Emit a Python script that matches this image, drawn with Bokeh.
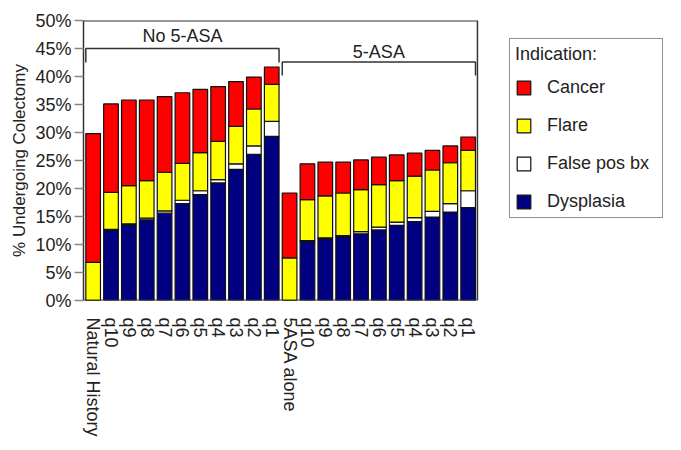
from bokeh.plotting import figure
from bokeh.models import (FixedTicker, PrintfTickFormatter, Legend, LegendItem,
                          ColumnDataSource, Range1d)
from bokeh.core.properties import value
from bokeh.embed import file_html
from bokeh.resources import INLINE

FONT = "Liberation Sans"

labels = ["Natural History", "q10", "q9", "q8", "q7", "q6", "q5", "q4", "q3", "q2", "q1",
          "5ASA alone", "q10", "q9", "q8", "q7", "q6", "q5", "q4", "q3", "q2", "q1"]
dysplasia = [0.0, 12.5, 13.5, 14.4, 15.6, 17.3, 18.9, 21.0, 23.4, 26.1, 29.3,
             0.0, 10.5, 11.0, 11.4, 11.9, 12.6, 13.4, 14.1, 14.9, 15.8, 16.6]
false_pos = [0.0, 0.2, 0.2, 0.3, 0.4, 0.6, 0.7, 0.6, 1.0, 1.5, 2.7,
             0.0, 0.2, 0.2, 0.2, 0.4, 0.5, 0.6, 0.7, 1.0, 1.5, 3.0]
flare = [6.8, 6.6, 6.8, 6.7, 6.9, 6.6, 6.8, 6.8, 6.7, 6.6, 6.6,
         7.6, 7.3, 7.5, 7.6, 7.5, 7.6, 7.4, 7.4, 7.4, 7.3, 7.2]
cancer = [23.0, 15.8, 15.3, 14.4, 13.5, 12.6, 11.3, 9.8, 8.0, 5.7, 3.1,
          11.6, 6.4, 6.0, 5.5, 5.3, 4.9, 4.6, 4.1, 3.5, 3.0, 2.4]
y_ticks = [0, 5, 10, 15, 20, 25, 30, 35, 40, 45, 50]
group_names = ["No 5-ASA", "5-ASA"]
group_first = [0, 11]
group_last = [10, 21]

x = list(range(len(labels)))
src = ColumnDataSource(dict(x=x, Dysplasia=dysplasia, FalsePos=false_pos,
                            Flare=flare, Cancer=cancer))

X0, X1 = -0.54, 21.52   # data extent of the boxed plotting area
# frame is extended to the right to host the legend (same px/unit scale)
p = figure(width=681, height=450, output_backend="svg", toolbar_location=None,
           x_range=Range1d(X0, 32.05), y_range=Range1d(0, 50),
           min_border_left=83, min_border_right=16, min_border_top=20,
           min_border_bottom=150)
p.background_fill_color = "white"
p.border_fill_color = "white"
p.outline_line_color = None
p.grid.visible = False

stack_keys = ["Dysplasia", "FalsePos", "Flare", "Cancer"]
colors = ["#000080", "#ffffff", "#ffff00", "#ff0000"]
renderers = p.vbar_stack(stack_keys, x="x", width=0.82, source=src, color=colors,
                         line_color="#111111", line_width=1.2)

# box around the plotting area (top, right, bottom)
p.line([X0, X1, X1, X0], [49.95, 49.95, 0.04, 0.04], line_color="#333333", line_width=1.5)

# brackets
br_y = [45.0, 42.6]
br_drop = [2.5, 2.4]
lab_y = [47.2, 44.3]
for i in range(2):
    x0 = group_first[i] - 0.41
    x1 = group_last[i] + 0.41
    p.line([x0, x0, x1, x1], [br_y[i] - br_drop[i], br_y[i], br_y[i], br_y[i] - br_drop[i]],
           line_color="#333333", line_width=1.5)
    p.text([(x0 + x1) / 2], [lab_y[i]], text=[group_names[i]], text_align="center",
           text_baseline="middle", text_font=value(FONT), text_font_size="18px",
           text_color="#222222")

# axes
p.xaxis.ticker = FixedTicker(ticks=x)
p.xaxis.major_label_overrides = {i: labels[i] for i in x}
p.xaxis.major_label_orientation = "vertical"
p.xaxis.major_tick_line_color = None
p.xaxis.minor_tick_line_color = None
p.xaxis.major_label_standoff = 11
p.xaxis.axis_line_color = None

p.yaxis.ticker = FixedTicker(ticks=y_ticks)
p.yaxis.formatter = PrintfTickFormatter(format="%d%%")
p.yaxis.minor_tick_line_color = None
p.yaxis.major_tick_out = 9
p.yaxis.major_tick_in = 0
p.yaxis.major_tick_line_color = "#888888"
p.yaxis.major_tick_line_width = 1.5
p.yaxis.major_label_standoff = 3
p.yaxis.axis_line_color = "#333333"
p.yaxis.axis_line_width = 1.5
p.yaxis.axis_label = "% Undergoing Colectomy"
p.yaxis.axis_label_standoff = 3

for ax in (p.xaxis, p.yaxis):
    ax.major_label_text_font = FONT
    ax.major_label_text_font_size = "18px"
    ax.major_label_text_color = "#222222"
    ax.axis_label_text_font = FONT
    ax.axis_label_text_font_size = "17px"
    ax.axis_label_text_font_style = "normal"
    ax.axis_label_text_color = "#222222"

items = [LegendItem(label="Cancer", renderers=[renderers[3]]),
         LegendItem(label="Flare", renderers=[renderers[2]]),
         LegendItem(label="False pos bx", renderers=[renderers[1]]),
         LegendItem(label="Dysplasia", renderers=[renderers[0]])]
legend = Legend(items=items, location=(426, 82), title="Indication:")
legend.title_text_font = FONT
legend.title_text_font_size = "18px"
legend.title_text_font_style = "normal"
legend.title_text_color = "#222222"
legend.title_standoff = 12
legend.label_text_font = FONT
legend.label_text_font_size = "18px"
legend.label_text_color = "#222222"
legend.glyph_width = 17
legend.glyph_height = 17
legend.label_height = 20
legend.label_width = 110
legend.label_standoff = 15
legend.spacing = 17
legend.padding = 5
legend.margin = 0
legend.border_line_color = "#222222"
legend.border_line_width = 1.5
legend.background_fill_alpha = 1.0
p.add_layout(legend, "center")

open("out.html", "w").write(file_html(p, INLINE))
